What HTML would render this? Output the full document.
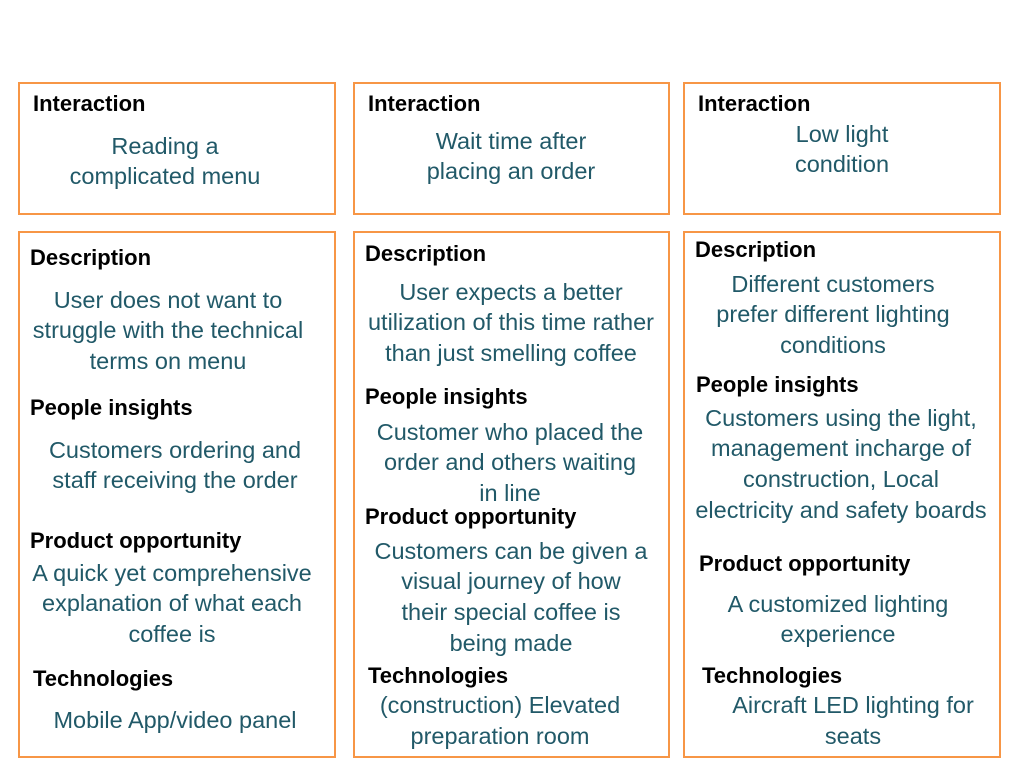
<!DOCTYPE html>
<html><head><meta charset="utf-8"><style>
html,body{margin:0;padding:0;background:#fff;}
body{width:1013px;height:768px;position:relative;overflow:hidden;font-family:"Liberation Sans",sans-serif;}
.b{position:absolute;border:2px solid #f79646;box-sizing:border-box;}
.h{position:absolute;font-weight:bold;color:#000;font-size:22px;line-height:30px;white-space:nowrap;}
.t{position:absolute;color:#215968;font-size:23.5px;line-height:30px;white-space:nowrap;width:400px;text-align:center;}
</style></head><body>
<div class="b" style="left:18px;top:82px;width:318px;height:133px"></div>
<div class="b" style="left:353px;top:82px;width:317px;height:133px"></div>
<div class="b" style="left:683px;top:82px;width:318px;height:133px"></div>
<div class="b" style="left:18px;top:231px;width:318px;height:527px"></div>
<div class="b" style="left:353px;top:231px;width:317px;height:527px"></div>
<div class="b" style="left:683px;top:231px;width:318px;height:527px"></div>

<div class="h" style="left:33px;top:89px">Interaction</div>
<div class="t" style="left:-35px;top:131px">Reading a</div>
<div class="t" style="left:-35px;top:161px">complicated menu</div>
<div class="h" style="left:368px;top:89px">Interaction</div>
<div class="t" style="left:311px;top:126px">Wait time after</div>
<div class="t" style="left:311px;top:156px">placing an order</div>
<div class="h" style="left:698px;top:89px">Interaction</div>
<div class="t" style="left:642px;top:119px">Low light</div>
<div class="t" style="left:642px;top:149px">condition</div>

<div class="h" style="left:30px;top:243px">Description</div>
<div class="t" style="left:-32px;top:285px">User does not want to</div>
<div class="t" style="left:-32px;top:315px">struggle with the technical</div>
<div class="t" style="left:-32px;top:346px">terms on menu</div>
<div class="h" style="left:30px;top:393px">People insights</div>
<div class="t" style="left:-25px;top:435px">Customers ordering and</div>
<div class="t" style="left:-25px;top:465px">staff receiving the order</div>
<div class="h" style="left:30px;top:526px">Product opportunity</div>
<div class="t" style="left:-28px;top:558px">A quick yet comprehensive</div>
<div class="t" style="left:-28px;top:588px">explanation of what each</div>
<div class="t" style="left:-28px;top:619px">coffee is</div>
<div class="h" style="left:33px;top:664px">Technologies</div>
<div class="t" style="left:-25px;top:705px">Mobile App/video panel</div>

<div class="h" style="left:365px;top:239px">Description</div>
<div class="t" style="left:311px;top:277px">User expects a better</div>
<div class="t" style="left:311px;top:307px">utilization of this time rather</div>
<div class="t" style="left:311px;top:338px">than just smelling coffee</div>
<div class="h" style="left:365px;top:382px">People insights</div>
<div class="t" style="left:310px;top:417px">Customer who placed the</div>
<div class="t" style="left:310px;top:447px">order and others waiting</div>
<div class="t" style="left:310px;top:478px">in line</div>
<div class="h" style="left:365px;top:502px">Product opportunity</div>
<div class="t" style="left:311px;top:536px">Customers can be given a</div>
<div class="t" style="left:311px;top:566px">visual journey of how</div>
<div class="t" style="left:311px;top:597px">their special coffee is</div>
<div class="t" style="left:311px;top:628px">being made</div>
<div class="h" style="left:368px;top:661px">Technologies</div>
<div class="t" style="left:300px;top:690px">(construction) Elevated</div>
<div class="t" style="left:300px;top:721px">preparation room</div>

<div class="h" style="left:695px;top:235px">Description</div>
<div class="t" style="left:633px;top:269px">Different customers</div>
<div class="t" style="left:633px;top:299px">prefer different lighting</div>
<div class="t" style="left:633px;top:330px">conditions</div>
<div class="h" style="left:696px;top:370px">People insights</div>
<div class="t" style="left:641px;top:403px">Customers using the light,</div>
<div class="t" style="left:641px;top:433px">management incharge of</div>
<div class="t" style="left:641px;top:464px">construction, Local</div>
<div class="t" style="left:641px;top:495px">electricity and safety boards</div>
<div class="h" style="left:699px;top:549px">Product opportunity</div>
<div class="t" style="left:638px;top:589px">A customized lighting</div>
<div class="t" style="left:638px;top:619px">experience</div>
<div class="h" style="left:702px;top:661px">Technologies</div>
<div class="t" style="left:653px;top:690px">Aircraft LED lighting for</div>
<div class="t" style="left:653px;top:721px">seats</div>
</body></html>
